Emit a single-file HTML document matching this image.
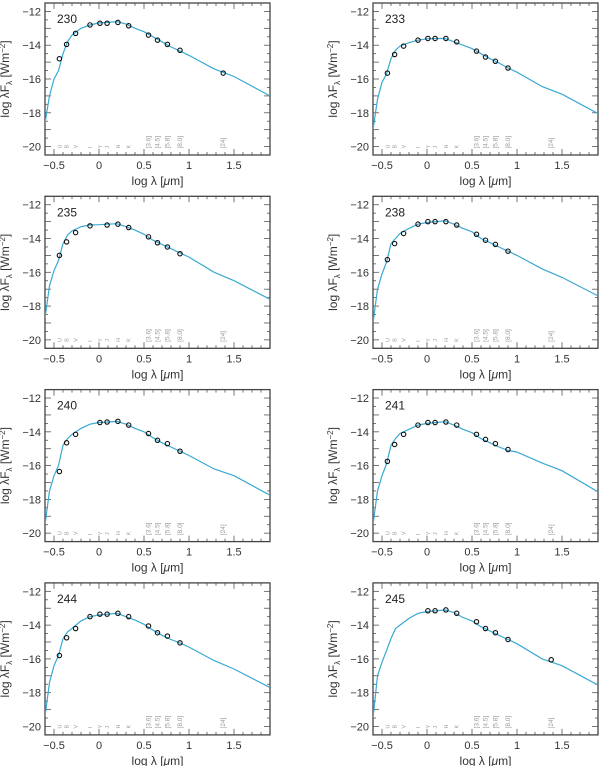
<!DOCTYPE html>
<html><head><meta charset="utf-8"><style>
body{margin:0;background:#fff}
svg{display:block}
text{font-family:"Liberation Sans",sans-serif}
</style></head><body>
<svg id="fig" width="600" height="766" xmlns="http://www.w3.org/2000/svg"></svg>
<script>
// shared data
const modelX=[-0.6,-0.55,-0.5,-0.45,-0.4,-0.35,-0.3,-0.2,-0.1,0,0.1,0.2,0.3,0.4,0.5,0.6,0.7,0.8,0.9,1.0,1.28,1.5,1.9];
const bandX=[-0.44,-0.36,-0.26,-0.1,0.01,0.09,0.21,0.33,0.55,0.65,0.76,0.9,1.38];
const bandNames=["U","B","V","I","Y","J","H","K","[3.6]","[4.5]","[5.8]","[8.0]","[24]"];
const xTicks=[-0.5,0,0.5,1,1.5];
const xTickLabels=["−0.5","0","0.5","1","1.5"];
const yTicks=[-12,-14,-16,-18,-20];
const yTickLabels=["−12","−14","−16","−18","−20"];
const panelIds=["230","233","235","238","240","241","244","245"];
const model230=[-18.6,-17,-16,-15.5,-14.5,-13.8,-13.4,-13.0,-12.8,-12.68,-12.65,-12.6,-12.75,-13.0,-13.2,-13.5,-13.8,-14.1,-14.35,-14.6,-15.4,-15.85,-17.0];
const model233=[-19,-17.2,-16.2,-15.7,-14.8,-14.3,-14.05,-13.85,-13.7,-13.62,-13.6,-13.6,-13.8,-14.0,-14.2,-14.5,-14.8,-15.05,-15.35,-15.6,-16.45,-16.9,-18.05];
const model235=[-18.7,-16.8,-15.9,-15.3,-14.3,-13.8,-13.55,-13.3,-13.2,-13.18,-13.15,-13.12,-13.3,-13.5,-13.75,-14.1,-14.35,-14.6,-14.85,-15.1,-16.0,-16.5,-17.6];
const model238=[-19,-17,-16.1,-15.4,-14.3,-14.0,-13.7,-13.4,-13.15,-13.05,-13.0,-12.95,-13.15,-13.4,-13.6,-14.0,-14.25,-14.5,-14.75,-15.0,-15.8,-16.3,-17.4];
const model240=[-19.5,-17.5,-16.6,-16.0,-14.8,-14.4,-14.15,-13.8,-13.55,-13.45,-13.42,-13.38,-13.55,-13.8,-14.0,-14.35,-14.65,-14.9,-15.15,-15.4,-16.2,-16.6,-17.75];
const model241=[-19.5,-17.5,-16.6,-15.9,-14.8,-14.4,-14.1,-13.85,-13.6,-13.5,-13.45,-13.4,-13.6,-13.85,-14.05,-14.4,-14.65,-14.9,-15.1,-15.2,-15.85,-16.3,-17.55];
const model244=[-19.4,-17.4,-16.4,-15.8,-14.8,-14.4,-14.2,-13.75,-13.5,-13.4,-13.35,-13.3,-13.5,-13.7,-13.95,-14.3,-14.6,-14.85,-15.05,-15.3,-16.1,-16.6,-17.7];
const model245=[-19.5,-17,-16.2,-15.5,-14.8,-14.2,-14.0,-13.6,-13.3,-13.2,-13.15,-13.1,-13.25,-13.55,-13.75,-14.1,-14.35,-14.6,-14.85,-15.1,-16.0,-16.4,-17.55];
const phot230=[-14.8,-13.95,-13.3,-12.8,-12.7,-12.7,-12.65,-12.85,-13.4,-13.7,-13.95,-14.3,-15.65];
const phot233=[-15.65,-14.55,-14.05,-13.7,-13.6,-13.6,-13.6,-13.8,-14.35,-14.7,-14.95,-15.35,null];
const phot235=[-15.0,-14.2,-13.65,-13.25,null,-13.2,-13.15,-13.35,-13.9,-14.25,-14.5,-14.9,null];
const phot238=[-15.25,-14.3,-13.7,-13.15,-13.0,-13.0,-13.0,-13.2,-13.75,-14.1,-14.35,-14.75,null];
const phot240=[-16.35,-14.65,-14.15,null,-13.45,-13.42,-13.38,-13.6,-14.1,-14.5,-14.7,-15.15,null];
const phot241=[-15.75,-14.75,-14.15,-13.6,-13.45,-13.45,-13.42,-13.6,-14.15,-14.45,-14.7,-15.05,null];
const phot244=[-15.8,-14.75,-14.2,-13.5,-13.35,-13.35,-13.3,-13.5,-14.05,-14.45,-14.65,-15.05,null];
const phot245=[null,null,null,null,-13.15,-13.15,-13.1,-13.3,-13.8,-14.2,-14.45,-14.85,-16.05];
const models=[model230,model233,model235,model238,model240,model241,model244,model245];
const phots=[phot230,phot233,phot235,phot238,phot240,phot241,phot244,phot245];

const NS="http://www.w3.org/2000/svg";
const svg=document.getElementById('fig');
function mk(tag,attrs,parent){const e=document.createElementNS(NS,tag);for(const k in attrs)e.setAttribute(k,attrs[k]);(parent||svg).appendChild(e);return e;}
const XMIN=-0.6,XMAX=1.9,YMAX=-11.5,YMIN=-20.5,W=225,H=152;

for(let p=0;p<8;p++){
  const col=p%2,row=Math.floor(p/2);
  const L=col?373:45, T=3+row*193.3;
  const sx=v=>L+(v-XMIN)/(XMAX-XMIN)*W;
  const sy=v=>T+(YMAX-v)/(YMAX-YMIN)*H;
  const g=mk('g',{});
  
  
  // ticks
  for(let v=-0.6;v<=1.9001;v+=0.1){
    const major=Math.abs(v*2-Math.round(v*2))<1e-6;
    const len=major?6:3,x=sx(v);
    mk('line',{x1:x,x2:x,y1:T+H,y2:T+H-len,stroke:'#555','stroke-width':0.8},g);
    mk('line',{x1:x,x2:x,y1:T,y2:T+len,stroke:'#555','stroke-width':0.8},g);
  }
  for(let v=-20.5;v<=-11.5;v+=0.5){
    const major=Math.abs(v-Math.round(v))<1e-6;
    const len=major?6:3,y=sy(v);
    mk('line',{x1:L,x2:L+len,y1:y,y2:y,stroke:'#555','stroke-width':0.8},g);
    mk('line',{x1:L+W,x2:L+W-len,y1:y,y2:y,stroke:'#555','stroke-width':0.8},g);
  }
  const frame=mk('rect',{x:L,y:T,width:W,height:H,fill:'none',stroke:'#444','stroke-width':1.3},g);
  
  
  xTicks.forEach((v,i)=>{const t=mk('text',{x:sx(v),y:T+H+14,'font-size':11,'text-anchor':'middle',fill:'#333'},g);t.textContent=xTickLabels[i];
    });
  yTicks.forEach((v,i)=>{const t=mk('text',{x:L-4,y:sy(v)+4,'font-size':11,'text-anchor':'end',fill:'#333'},g);t.textContent=yTickLabels[i];
    });
  const xl=mk('text',{x:L+W/2,y:T+H+30,'font-size':12,'text-anchor':'middle',fill:'#333'},g);
  xl.innerHTML='log λ [<tspan font-style="italic">μ</tspan>m]';
  
  const yl=mk('text',{x:0,y:0,'font-size':12,'text-anchor':'middle',fill:'#333',transform:`translate(${L-36},${T+H/2}) rotate(-90)`},g);
  yl.innerHTML='log λF<tspan font-size="8" dy="3">λ</tspan><tspan dy="-3"> [Wm</tspan><tspan font-size="8" dy="-4">−2</tspan><tspan dy="4">]</tspan>';
  
  const id=mk('text',{x:L+12,y:T+20,'font-size':12,fill:'#222'},g);id.textContent=panelIds[p];
  
  // band labels
  bandNames.forEach((n,i)=>{
    const x=sx(bandX[i]),y=sy(-20);
    const t=mk('text',{x:0,y:0,'font-size':n.length>1?6.5:5.5,fill:'#999','text-anchor':'start',transform:`translate(${x+2},${y+2}) rotate(-90)`},g);
    t.textContent=n;
    
  });
  // model
  const m=models[p];
  const d=modelX.map((x,i)=>(i?'L':'M')+sx(x).toFixed(1)+','+sy(m[i]).toFixed(1)).join(' ');
  const cp=mk('clipPath',{id:'c'+p},g);mk('rect',{x:L,y:T,width:W,height:H},cp);
  const path=mk('path',{d:d,fill:'none',stroke:'#3aa9d2','stroke-width':1.2,'clip-path':`url(#c${p})`},g);
  
  // photometry
  phots[p].forEach((v,i)=>{
    if(v===null)return;
    const c=mk('circle',{cx:sx(bandX[i]),cy:sy(v),r:2.2,fill:'none',stroke:'#111','stroke-width':1.1},g);
    
  });
}
</script>
</body></html>
